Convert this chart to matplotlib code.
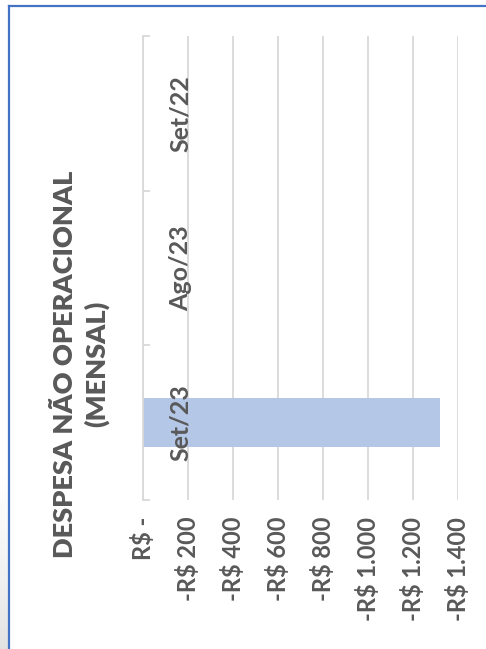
import numpy as np
import matplotlib
matplotlib.use("Agg")
import matplotlib.pyplot as plt
from matplotlib.lines import Line2D
from matplotlib.transforms import blended_transform_factory

plt.rcParams['font.family'] = ['Lato', 'DejaVu Sans']

# data
categories = ["Set/22", "Ago/23", "Set/23"]
values = [0, 0, -1320]
ticks = [0, -200, -400, -600, -800, -1000, -1200, -1400]
tick_labels = ["R$ -", "-R$ 200", "-R$ 400", "-R$ 600", "-R$ 800",
               "-R$ 1.000", "-R$ 1.200", "-R$ 1.400"]
title = "DESPESA NÃO OPERACIONAL\n(MENSAL)"

text_col = "#595959"
grid_col = "#d9d9d9"

W, H = 486, 649
fig = plt.figure(figsize=(W / 100, H / 100), dpi=100)

# plot area (chart is rotated 90 degrees)
ax = fig.add_axes([143 / W, (H - 500) / H, 315 / W, 464 / H])
pos = np.arange(len(categories))
ax.barh(pos, values, height=0.32, color="#b4c7e7", zorder=2)

ax.set_xlim(0, -1400)
ax.set_ylim(len(categories) - 0.5, -0.5)
ax.set_xticks(ticks)
ax.set_xticklabels(tick_labels, rotation=90, fontsize=17, color=text_col,
                   fontweight='bold')
ax.tick_params(axis='x', length=0, pad=12)
ax.grid(axis='x', color=grid_col, lw=1.3, zorder=0)

for s in ['top', 'right', 'bottom']:
    ax.spines[s].set_visible(False)
ax.spines['left'].set_color(grid_col)
ax.spines['left'].set_linewidth(1.3)
ax.spines['left'].set_zorder(3)

# category boundaries as small ticks on the zero line
ax.set_yticks(np.arange(len(categories) + 1) - 0.5)
ax.set_yticklabels([])
ax.tick_params(axis='y', direction='in', length=5, width=1.3, color=grid_col)

# category labels sit just right of the zero line
tr = blended_transform_factory(ax.transAxes, ax.transData)
for p, c in zip(pos, categories):
    ax.text(0.12, p, c, transform=tr, rotation=90, ha='center', va='center',
            fontsize=18, fontweight='bold', color=text_col, zorder=4)

fig.text(81 / W, 1 - 364 / H, title, rotation=90, ha='center', va='center',
         multialignment='center', fontsize=19.5, fontweight='heavy',
         color=text_col, linespacing=1.3)

# chart frame (top and left edges visible) and shadow strip
bg = fig.add_axes([0, 0, 8 / W, 175 / H])
grad = np.linspace(0, 1, 100).reshape(-1, 1)
bg.imshow(grad, aspect='auto', cmap='Greys', vmin=0, vmax=5,
          origin='upper', extent=[0, 1, 0, 1])
bg.axis('off')
fig.add_artist(Line2D([8.5 / W, 8.5 / W], [0, 1 - 6 / H], color="#4472c4",
                      lw=1.6, transform=fig.transFigure))
fig.add_artist(Line2D([8.5 / W, 1], [1 - 6 / H, 1 - 6 / H], color="#4472c4",
                      lw=1.6, transform=fig.transFigure))

fig.savefig("out.png", dpi=100)
